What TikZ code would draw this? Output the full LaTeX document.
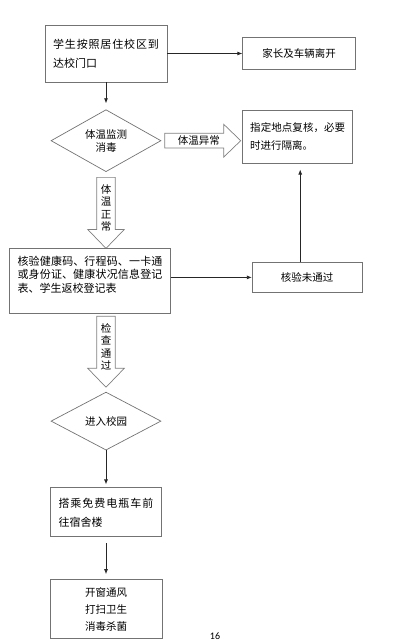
\documentclass[tikz,border=0pt]{standalone}
\usepackage{fontspec}
\setmainfont{Noto Sans CJK SC}
\newfontfamily\pagefont{Carlito}
\XeTeXlinebreaklocale "zh"
\XeTeXlinebreakskip=0pt plus 2pt
\usetikzlibrary{arrows.meta,positioning,shapes.geometric,shapes.arrows,calc}

\begin{document}
\begin{tikzpicture}[
  x=1pt, y=1pt,
  font=\fontsize{10.5pt}{13pt}\selectfont,
  >={Latex[length=5pt,width=4pt]},
  box/.style={draw=black!55, line width=0.7pt, align=justify, inner xsep=8pt, inner ysep=3pt},
  cbox/.style={draw=black!55, line width=0.7pt, align=center},
  gate/.style={draw=black!55, line width=0.7pt, diamond, aspect=1.7, inner sep=1pt, minimum width=110pt, minimum height=62pt, align=center},
  fat/.style={draw=black!50, line width=0.7pt, single arrow, single arrow head extend=9pt, single arrow tip angle=88, inner sep=2.2pt},
  fatdown/.style={fat, shape border rotate=270, minimum height=71pt, inner sep=3.7pt, align=center, font=\fontsize{10.5pt}{12.5pt}\selectfont},
  arrow/.style={->, line width=0.8pt, draw=black!85}
]
\useasboundingbox (0,0) rectangle (416,642);

\node[box, text width=106pt, minimum height=57pt, font=\fontsize{11pt}{19pt}\selectfont] (arrive) at (106,588.5) {学生按照居住校区到达校门口};
\node[cbox, minimum width=113pt, minimum height=32pt, right=75pt of arrive] (leave) {家长及车辆离开};

\node[gate, below=27pt of arrive] (temp) {体温监测\\消毒};
\node[box, text width=95pt, inner xsep=7.5pt, minimum height=53pt, font=\fontsize{10.5pt}{18pt}\selectfont, below=40pt of leave.south west, anchor=north west] (recheck) {指定地点复核，必要时进行隔离。};
\node[fat, minimum height=76pt, right=3pt of temp, anchor=tail] (hot) {体温异常};
\node[fatdown, below=5pt of temp, anchor=tail] (normal) {体\\温\\正\\常};

\node[box, text width=145pt, minimum height=65pt, font=\fontsize{11pt}{13.5pt}\selectfont, below=76pt of temp, xshift=-16pt] (verify) {核验健康码、行程码、一卡通或身份证、健康状况信息登记表、学生返校登记表\\ \mbox{}};
\node[cbox, minimum width=110pt, minimum height=30pt, right=81pt of verify, yshift=3.5pt] (fail) {核验未通过};

\node[gate, minimum height=58pt, below=78pt of verify, xshift=16pt] (enter) {进入校园};
\node[fatdown, above=4pt of enter, anchor=tip] (passed) {检\\查\\通\\过};

\node[box, text width=95pt, minimum height=49pt, font=\fontsize{11pt}{19pt}\selectfont, below=37pt of enter] (bus) {搭乘免费电瓶车前往宿舍楼};
\node[cbox, minimum width=112pt, minimum height=59pt, font=\fontsize{10.5pt}{17pt}\selectfont, below=42pt of bus] (clean) {开窗通风\\打扫卫生\\消毒杀菌};

\node[font=\pagefont\fontsize{10pt}{12pt}\selectfont] (pageno) at (215,6) {16};

\draw[arrow] (arrive) -- (leave);
\draw[arrow, shorten >=6pt] (arrive) -- (temp);
\draw[arrow] (verify.east |- fail) -- (fail);
\draw[arrow, shorten >=6pt] ([xshift=-7pt]fail.north) -- ([xshift=-7pt]fail.north |- recheck.south);
\draw[arrow, shorten >=3pt] (enter) -- (bus);
\draw[arrow, shorten <=6pt, shorten >=5pt] (bus) -- (clean);
\end{tikzpicture}
\end{document}
